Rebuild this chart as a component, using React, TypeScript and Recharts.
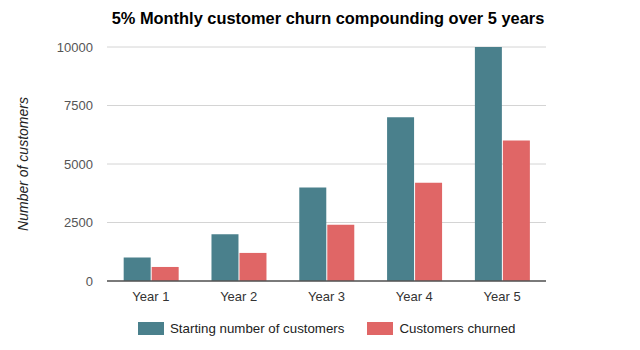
import { BarChart, Bar, XAxis, YAxis, CartesianGrid } from 'recharts'

const years = ['Year 1', 'Year 2', 'Year 3', 'Year 4', 'Year 5']
const startingCustomers = [1000, 2000, 4000, 7000, 10000]
const customersChurned = [600, 1200, 2400, 4200, 6000]
const yTicks = [0, 2500, 5000, 7500, 10000]

const TEAL = '#4a808c'
const RED = '#e06666'
const FONT = '"Liberation Sans", Arial, sans-serif'

const data = years.map((year, i) => ({
  year,
  starting: startingCustomers[i],
  churned: customersChurned[i],
}))

const legendItems = [
  { label: 'Starting number of customers', color: TEAL },
  { label: 'Customers churned', color: RED },
]

export default function App() {
  return (
    <div style={{ position: 'absolute', left: 0, top: 0, width: 640, height: 350, background: '#fff' }}>
      <div
        style={{
          position: 'absolute',
          top: 9,
          left: 8,
          width: 640,
          textAlign: 'center',
          fontFamily: FONT,
          fontWeight: 'bold',
          fontSize: 16.4,
          color: '#000',
        }}
      >
        5% Monthly customer churn compounding over 5 years
      </div>
      <BarChart
        width={640}
        height={350}
        data={data}
        margin={{ top: 47, right: 94, bottom: 0, left: 0 }}
        barCategoryGap="19%"
        barGap={1}
      >
        <CartesianGrid vertical={false} stroke="#d4d4d4" />
        <XAxis
          dataKey="year"
          axisLine={{ stroke: '#555', strokeWidth: 1.5 }}
          tickLine={false}
          tickSize={0}
          tickMargin={11}
          height={69}
          tick={{ fill: '#333', fontSize: 13, fontFamily: FONT }}
        />
        <YAxis
          domain={[0, 10000]}
          ticks={yTicks}
          width={107}
          axisLine={false}
          tickLine={false}
          tickSize={0}
          tickMargin={14}
          tick={{ fill: '#555', fontSize: 13, fontFamily: FONT }}
          label={{
            content: () => (
              <text
                x={0}
                y={0}
                transform="translate(28,164) rotate(-90)"
                textAnchor="middle"
                fontFamily={FONT}
                fontStyle="italic"
                fontSize={14}
                fill="#222"
              >
                Number of customers
              </text>
            ),
          }}
        />
        <Bar dataKey="starting" fill={TEAL} isAnimationActive={false} />
        <Bar dataKey="churned" fill={RED} isAnimationActive={false} />
      </BarChart>
      <div
        style={{
          position: 'absolute',
          top: 319,
          left: 138,
          display: 'flex',
          fontFamily: FONT,
          fontSize: 13.3,
          color: '#222',
          lineHeight: '19px',
        }}
      >
        {legendItems.map((it, i) => (
          <div key={it.label} style={{ display: 'flex', alignItems: 'center', marginLeft: i === 0 ? 0 : 23 }}>
            <span style={{ display: 'inline-block', width: 26, height: 13, background: it.color, marginRight: 6 }} />
            <span>{it.label}</span>
          </div>
        ))}
      </div>
    </div>
  )
}
